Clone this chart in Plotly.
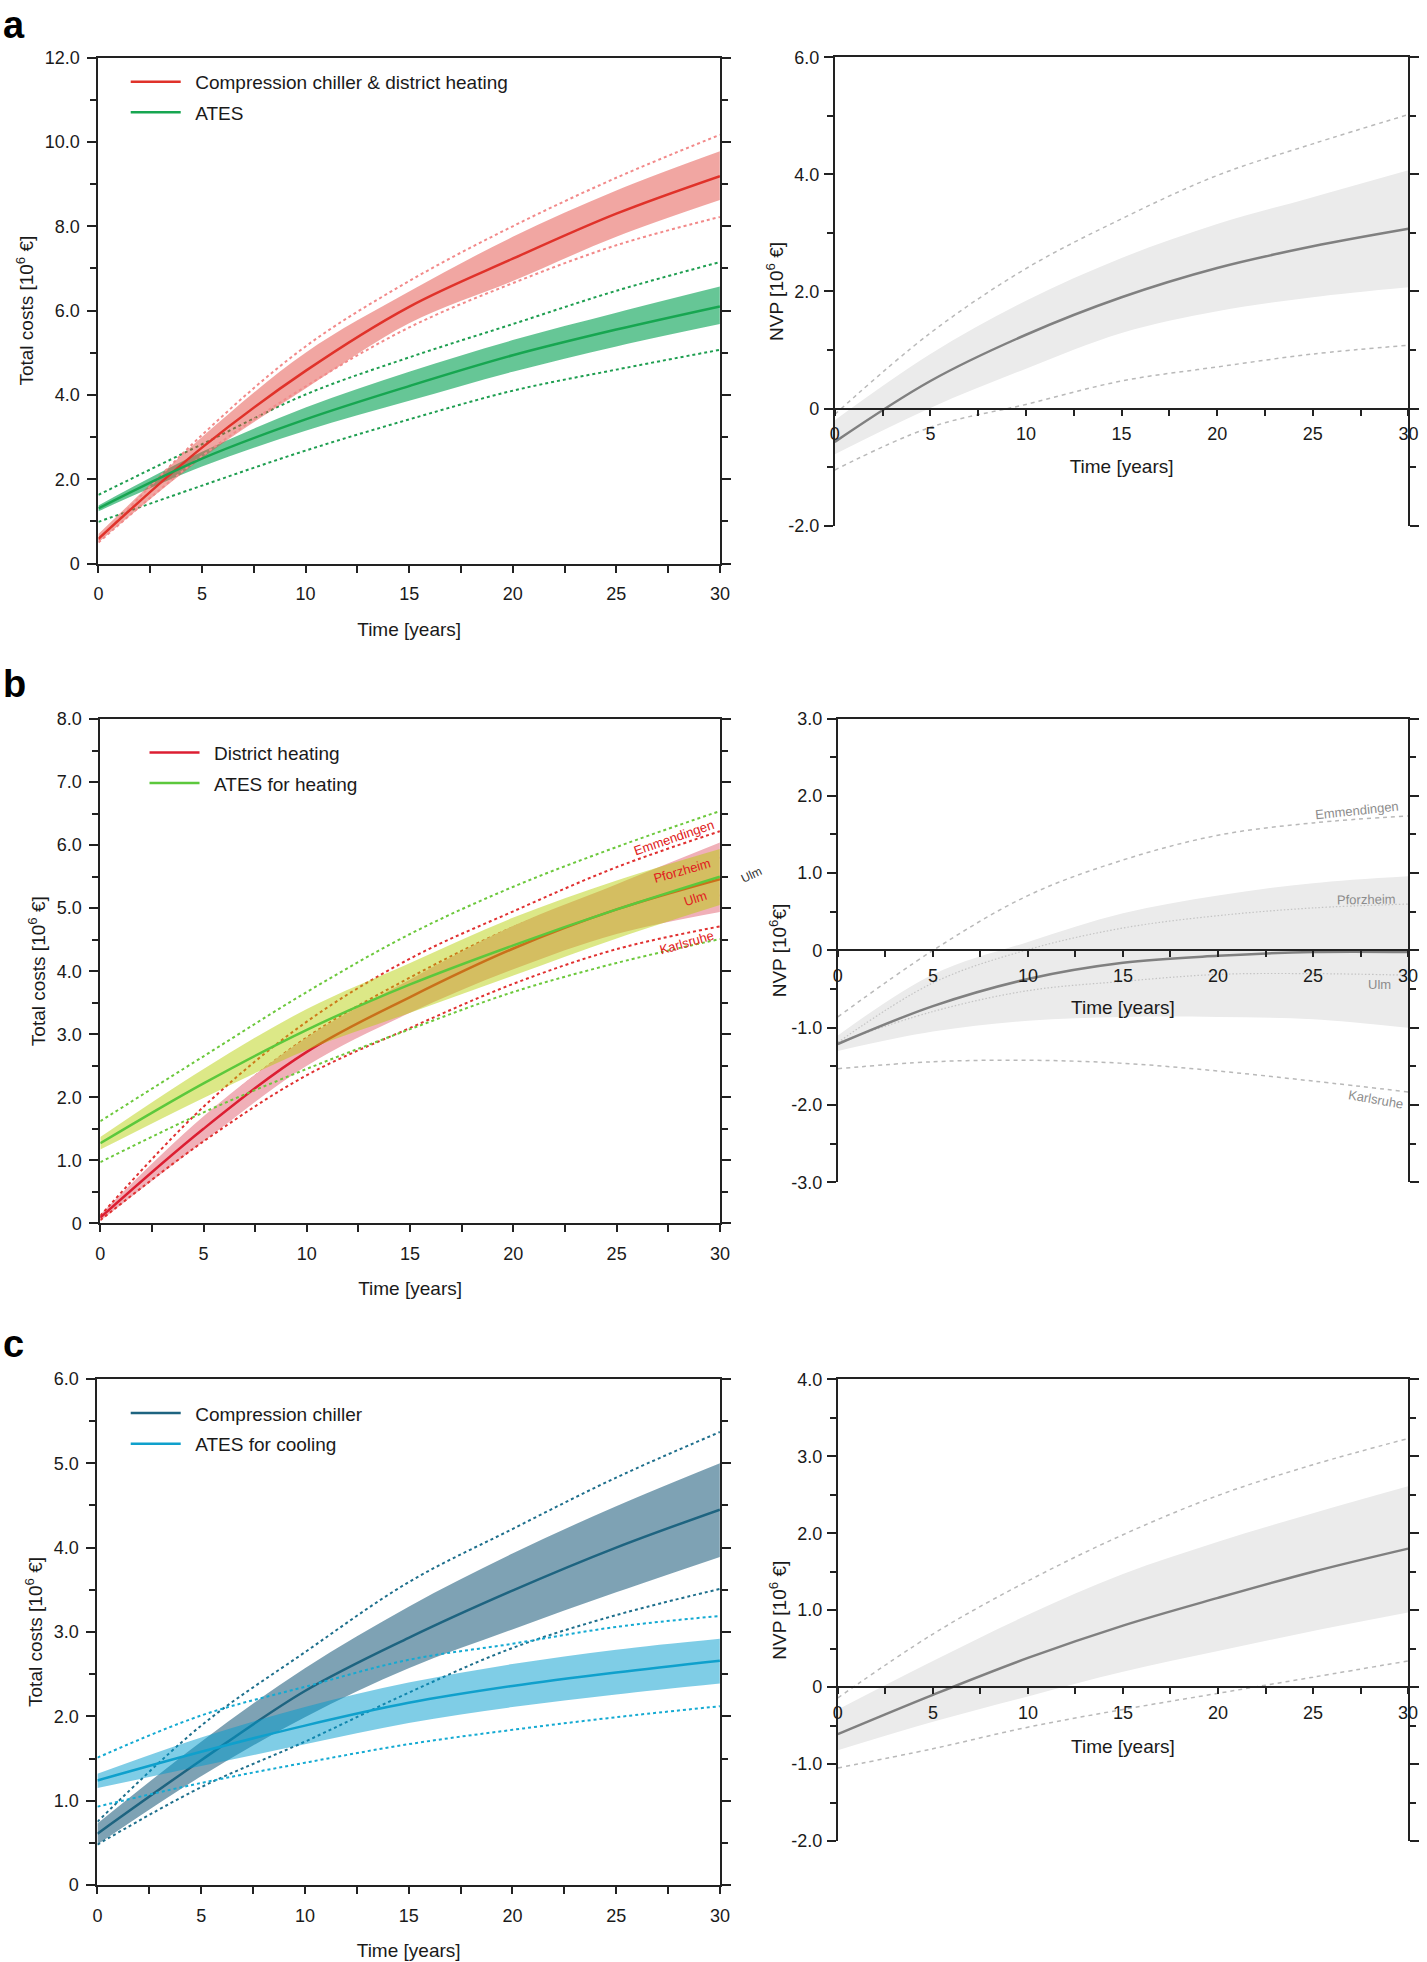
import plotly.graph_objects as go

W, H = 1427, 1962            # page / figure size
FW, FH = W, H
# measured vertical mapping of the screenshot pipeline: shown_y = VS * page_y + VOFF
VS, VOFF = 0.9902, 9.18
FONT = "Liberation Sans, Arial, Helvetica, sans-serif"

# ---------------- data ----------------
T = [0, 5, 10, 15, 20, 25, 30]
X_TICKS = [0, 5, 10, 15, 20, 25, 30]
X_TICKTEXT = ["0", "5", "10", "15", "20", "25", "30"]

# panel a (left): total costs
a_red = [0.59, 2.75, 4.57, 6.09, 7.23, 8.30, 9.19]
a_red_hi = [0.70, 3.00, 5.00, 6.45, 7.75, 8.85, 9.78]
a_red_lo = [0.50, 2.50, 4.15, 5.70, 6.70, 7.75, 8.62]
a_red_dot_hi = [0.55, 3.05, 5.15, 6.70, 8.00, 9.15, 10.17]
a_red_dot_lo = [0.50, 2.55, 4.20, 5.60, 6.65, 7.55, 8.22]
a_grn = [1.31, 2.49, 3.42, 4.21, 4.94, 5.55, 6.10]
a_grn_hi = [1.38, 2.65, 3.70, 4.55, 5.30, 5.95, 6.57]
a_grn_lo = [1.24, 2.30, 3.15, 3.86, 4.55, 5.15, 5.68]
a_grn_dot_hi = [1.63, 2.83, 4.01, 4.89, 5.68, 6.47, 7.15]
a_grn_dot_lo = [0.99, 1.85, 2.68, 3.42, 4.10, 4.60, 5.07]
a_yvals = [0, 2, 4, 6, 8, 10, 12]
a_ytext = ["0", "2.0", "4.0", "6.0", "8.0", "10.0", "12.0"]

# panel a (right): NVP
a_nvp = [-0.57, 0.47, 1.26, 1.90, 2.40, 2.77, 3.07]
a_nvp_hi = [-0.20, 0.93, 1.84, 2.57, 3.15, 3.61, 4.07]
a_nvp_lo = [-0.78, 0.01, 0.68, 1.29, 1.66, 1.90, 2.07]
a_nvp_dot_hi = [-0.10, 1.29, 2.39, 3.24, 3.98, 4.52, 5.02]
a_nvp_dot_lo = [-1.05, -0.32, 0.07, 0.47, 0.71, 0.93, 1.08]
a_nvp_yvals = [-2, 0, 2, 4, 6]
a_nvp_ytext = ["-2.0", "0", "2.0", "4.0", "6.0"]

# panel b (left): heating
b_red = [0.09, 1.50, 2.72, 3.59, 4.36, 4.98, 5.46]
b_red_hi = [0.14, 1.70, 2.95, 3.87, 4.72, 5.38, 6.04]
b_red_lo = [0.04, 1.30, 2.50, 3.34, 4.03, 4.59, 4.94]
b_red_emm = [0.12, 1.85, 3.20, 4.20, 4.95, 5.65, 6.22]
b_red_pfo = [0.10, 1.65, 2.95, 3.90, 4.70, 5.30, 5.80]
b_red_ulm = [0.08, 1.45, 2.65, 3.50, 4.25, 4.85, 5.20]
b_red_kar = [0.05, 1.30, 2.35, 3.10, 3.80, 4.35, 4.71]
b_grn = [1.27, 2.22, 3.07, 3.79, 4.41, 4.98, 5.50]
b_grn_hi = [1.37, 2.45, 3.40, 4.13, 4.85, 5.44, 5.94]
b_grn_lo = [1.17, 1.99, 2.75, 3.34, 3.93, 4.52, 5.05]
b_grn_dot_hi = [1.62, 2.65, 3.67, 4.59, 5.34, 5.97, 6.54]
b_grn_dot_lo = [0.97, 1.76, 2.45, 3.08, 3.67, 4.13, 4.51]
b_yvals = [0, 1, 2, 3, 4, 5, 6, 7, 8]
b_ytext = ["0", "1.0", "2.0", "3.0", "4.0", "5.0", "6.0", "7.0", "8.0"]

# panel b (right): NVP
b_nvp = [-1.21, -0.72, -0.37, -0.16, -0.07, -0.02, -0.02]
b_nvp_hi = [-1.10, -0.31, 0.11, 0.48, 0.71, 0.87, 0.96]
b_nvp_lo = [-1.30, -1.05, -0.91, -0.86, -0.86, -0.89, -1.00]
b_nvp_emm = [-0.86, 0.00, 0.71, 1.17, 1.49, 1.65, 1.74]
b_nvp_pfo = [-1.19, -0.42, 0.01, 0.29, 0.45, 0.55, 0.60]
b_nvp_ulm = [-1.19, -0.79, -0.52, -0.40, -0.31, -0.30, -0.32]
b_nvp_kar = [-1.53, -1.44, -1.42, -1.46, -1.56, -1.69, -1.83]
b_nvp_yvals = [-3, -2, -1, 0, 1, 2, 3]
b_nvp_ytext = ["-3.0", "-2.0", "-1.0", "0", "1.0", "2.0", "3.0"]
cities = ["Emmendingen", "Pforzheim", "Ulm", "Karlsruhe"]

# panel c (left): cooling
c_cc = [0.61, 1.48, 2.30, 2.93, 3.49, 4.00, 4.45]
c_cc_hi = [0.73, 1.70, 2.57, 3.30, 3.93, 4.49, 5.00]
c_cc_lo = [0.48, 1.29, 1.99, 2.57, 3.03, 3.47, 3.89]
c_cc_dot_hi = [0.75, 1.89, 2.76, 3.59, 4.22, 4.83, 5.37]
c_cc_dot_lo = [0.48, 1.16, 1.70, 2.28, 2.81, 3.20, 3.51]
c_at = [1.24, 1.58, 1.89, 2.16, 2.36, 2.52, 2.66]
c_at_hi = [1.32, 1.75, 2.11, 2.40, 2.62, 2.79, 2.92]
c_at_lo = [1.15, 1.41, 1.67, 1.92, 2.11, 2.26, 2.39]
c_at_dot_hi = [1.51, 2.01, 2.35, 2.67, 2.86, 3.06, 3.19]
c_at_dot_lo = [0.93, 1.21, 1.45, 1.67, 1.84, 1.99, 2.12]
c_yvals = [0, 1, 2, 3, 4, 5, 6]
c_ytext = ["0", "1.0", "2.0", "3.0", "4.0", "5.0", "6.0"]

# panel c (right): NVP
c_nvp = [-0.61, -0.10, 0.38, 0.80, 1.16, 1.50, 1.80]
c_nvp_hi = [-0.29, 0.34, 0.94, 1.47, 1.89, 2.26, 2.61]
c_nvp_lo = [-0.82, -0.45, -0.12, 0.20, 0.47, 0.73, 0.97]
c_nvp_dot_hi = [-0.14, 0.69, 1.38, 1.98, 2.49, 2.89, 3.23]
c_nvp_dot_lo = [-1.05, -0.80, -0.52, -0.29, -0.08, 0.13, 0.34]
c_nvp_yvals = [-2, -1, 0, 1, 2, 3, 4]
c_nvp_ytext = ["-2.0", "-1.0", "0", "1.0", "2.0", "3.0", "4.0"]

# ---------------- helpers ----------------
fig = go.Figure()


def px(xp):
    return xp / FW


def py(yp):
    return 1 - ((yp - VOFF) / VS) / FH


def xd(a, b):
    return [px(a), px(b)]


def yd(top, bottom):
    return [py(bottom), py(top)]


def band(n, lo, hi, color):
    fig.add_trace(go.Scatter(x=T, y=lo, xaxis="x" + n, yaxis="y" + n, mode="lines",
                             line=dict(width=0, shape="spline"), showlegend=False, hoverinfo="skip"))
    fig.add_trace(go.Scatter(x=T, y=hi, xaxis="x" + n, yaxis="y" + n, mode="lines",
                             line=dict(width=0, shape="spline"), fill="tonexty", fillcolor=color,
                             showlegend=False, hoverinfo="skip"))


def curve(n, y, color, width, dash="solid", name=None, legend=None):
    fig.add_trace(go.Scatter(x=T, y=y, xaxis="x" + n, yaxis="y" + n, mode="lines",
                             line=dict(color=color, width=width, dash=dash, shape="spline"),
                             name=name, showlegend=name is not None,
                             legend=legend if legend else "legend",
                             legendgroup=name if name else None, hoverinfo="skip"))


AX = "#222222"
TICKFONT = dict(family=FONT, size=18, color="#1a1a1a")
TITLEFONT = dict(family=FONT, size=19, color="#1a1a1a")
axis_layout = {}


def left_panel(n, xdom, ydom, yr, yvals, ytext, ydminor):
    axis_layout["xaxis" + n] = dict(
        domain=xdom, range=[0, 30], anchor="y" + n, showline=True, linecolor=AX, linewidth=2,
        mirror=True, ticks="outside", ticklen=7, tickwidth=1.5, tickcolor=AX,
        tickvals=X_TICKS, ticktext=X_TICKTEXT, tickfont=TICKFONT, ticklabelstandoff=6,
        minor=dict(tick0=0, dtick=2.5, ticks="outside", ticklen=7, tickwidth=1.5, tickcolor=AX),
        showgrid=False, zeroline=False,
        title=dict(text="Time [years]", font=TITLEFONT, standoff=19))
    axis_layout["yaxis" + n] = dict(
        domain=ydom, range=yr, anchor="x" + n, showline=True, linecolor=AX, linewidth=2,
        mirror="ticks", ticks="outside", ticklen=9, tickwidth=1.5, tickcolor=AX,
        tickvals=yvals, ticktext=ytext, tickfont=TICKFONT, ticklabelstandoff=4,
        minor=dict(tick0=0, dtick=ydminor, ticks="outside", ticklen=6, tickwidth=1.5, tickcolor=AX),
        showgrid=False, zeroline=False,
        title=dict(text="Total costs [10<sup>6</sup> €]", font=TITLEFONT, standoff=6))


def right_panel(n, top_n, xdom, ydom, yr, yvals, ytext, ydminor, ytitle, xstandoff):
    pos = ydom[0] + (0 - yr[0]) / (yr[1] - yr[0]) * (ydom[1] - ydom[0])
    axis_layout["xaxis" + n] = dict(
        domain=xdom, range=[0, 30], anchor="free", position=pos, showline=True, linecolor=AX,
        linewidth=2, ticks="outside", ticklen=6, tickwidth=1.5, tickcolor=AX,
        tickvals=X_TICKS, ticktext=X_TICKTEXT, tickfont=TICKFONT, ticklabelstandoff=3,
        minor=dict(tick0=0, dtick=2.5, ticks="outside", ticklen=6, tickwidth=1.5, tickcolor=AX),
        showgrid=False, zeroline=False,
        title=dict(text="Time [years]", font=TITLEFONT, standoff=xstandoff))
    axis_layout["yaxis" + n] = dict(
        domain=ydom, range=yr, anchor="x" + n, showline=True, linecolor=AX, linewidth=2,
        mirror="ticks", ticks="outside", ticklen=9, tickwidth=1.5, tickcolor=AX,
        tickvals=yvals, ticktext=ytext, tickfont=TICKFONT, ticklabelstandoff=1,
        minor=dict(tick0=0, dtick=ydminor, ticks="outside", ticklen=6, tickwidth=1.5, tickcolor=AX),
        showgrid=False, zeroline=False,
        title=dict(text=ytitle, font=TITLEFONT, standoff=0))
    axis_layout["xaxis" + top_n] = dict(
        overlaying="x" + n, anchor="y" + n, side="top", range=[0, 30], showline=True,
        linecolor=AX, linewidth=2, ticks="", showticklabels=False, showgrid=False, zeroline=False)
    fig.add_trace(go.Scatter(x=[], y=[], xaxis="x" + top_n, yaxis="y" + n, mode="lines",
                             showlegend=False, hoverinfo="skip"))


# ---------------- panel a ----------------
band("1", a_grn_lo, a_grn_hi, "rgba(0,160,80,0.6)")
curve("1", a_grn_dot_hi, "#1e9e50", 2, "dot")
curve("1", a_grn_dot_lo, "#1e9e50", 2, "dot")
band("1", a_red_lo, a_red_hi, "rgba(225,70,60,0.48)")
curve("1", a_red_dot_hi, "#f28a8a", 2, "dot")
curve("1", a_red_dot_lo, "#f28a8a", 2, "dot")
curve("1", a_red, "#e0322a", 2.5, name="\u2002Compression chiller & district heating", legend="legend")
curve("1", a_grn, "#17a651", 2.5, name="\u2002ATES", legend="legend")

GRAY_BAND = "#ebebeb"
GRAY_LINE = "#808080"
GRAY_DOT = "#b9b9b9"
band("2", a_nvp_lo, a_nvp_hi, GRAY_BAND)
curve("2", a_nvp_dot_hi, GRAY_DOT, 1.5, "4px,4px")
curve("2", a_nvp_dot_lo, GRAY_DOT, 1.5, "4px,4px")
curve("2", a_nvp, GRAY_LINE, 2.5)

# ---------------- panel b ----------------
curve("3", b_red_pfo, "#e03030", 2, "dot")
curve("3", b_red_ulm, "#e03030", 2, "dot")
band("3", b_red_lo, b_red_hi, "#f0b0b8")
curve("3", b_red_emm, "#e03030", 2, "dot")
curve("3", b_red_kar, "#e03030", 2, "dot")
curve("3", b_red, "#dc1e32", 2.5, name="\u2002District heating", legend="legend2")
band("3", b_grn_lo, b_grn_hi, "rgba(181,206,0,0.47)")
curve("3", b_grn_dot_hi, "#6cc83c", 2, "dot")
curve("3", b_grn_dot_lo, "#6cc83c", 2, "dot")
curve("3", b_grn, "#5cc83c", 2.5, name="\u2002ATES for heating", legend="legend2")

band("4", b_nvp_lo, b_nvp_hi, GRAY_BAND)
curve("4", b_nvp_emm, GRAY_DOT, 1.5, "4px,4px")
curve("4", b_nvp_pfo, "#c4c4c4", 1.2, "1.5px,2px")
curve("4", b_nvp_ulm, "#c4c4c4", 1.2, "1.5px,2px")
curve("4", b_nvp_kar, GRAY_DOT, 1.5, "4px,4px")
curve("4", b_nvp, GRAY_LINE, 2.5)

# ---------------- panel c ----------------
band("5", c_cc_lo, c_cc_hi, "rgba(40,100,130,0.6)")
curve("5", c_cc_dot_hi, "#1e6f8c", 2, "dot")
curve("5", c_cc_dot_lo, "#1e6f8c", 2, "dot")
curve("5", c_cc, "#1e6480", 2.5, name="\u2002Compression chiller", legend="legend3")
band("5", c_at_lo, c_at_hi, "rgba(0,155,205,0.5)")
curve("5", c_at_dot_hi, "#14aad2", 2, "dot")
curve("5", c_at_dot_lo, "#14aad2", 2, "dot")
curve("5", c_at, "#0fa0cc", 2.5, name="\u2002ATES for cooling", legend="legend3")

band("6", c_nvp_lo, c_nvp_hi, GRAY_BAND)
curve("6", c_nvp_dot_hi, GRAY_DOT, 1.5, "4px,4px")
curve("6", c_nvp_dot_lo, GRAY_DOT, 1.5, "4px,4px")
curve("6", c_nvp, GRAY_LINE, 2.5)

# ---------------- axes ----------------
left_panel("", xd(94.4, 722.5), yd(56.8, 563), [0, 12], a_yvals, a_ytext, 1)
right_panel("2", "7", xd(838.6, 1418.3), yd(56.4, 525), [-2, 6], a_nvp_yvals, a_nvp_ytext, 1,
            "NVP [10<sup>6</sup> €]", 16)
left_panel("3", xd(96.3, 722.5), yd(718.5, 1223), [0, 8], b_yvals, b_ytext, 0.5)
right_panel("4", "8", xd(841.7, 1418), yd(718, 1182), [-3, 3], b_nvp_yvals, b_nvp_ytext, 0.5,
            "NVP [10<sup>6</sup>€]", 15)
left_panel("5", xd(93.4, 722.5), yd(1378.6, 1885), [0, 6], c_yvals, c_ytext, 0.5)
right_panel("6", "9", xd(841.7, 1418), yd(1379, 1841), [-2, 4], c_nvp_yvals, c_nvp_ytext, 0.5,
            "NVP [10<sup>6</sup> €]", 17)
axis_layout["xaxis"]["anchor"] = "y"
axis_layout["yaxis"]["anchor"] = "x"

# ---------------- annotations ----------------
ann = []
for letter, ypx in [("a", 24), ("b", 683), ("c", 1344)]:
    ann.append(dict(text="<b>%s</b>" % letter, x=px(-4), y=py(ypx), xref="paper", yref="paper",
                    xanchor="left", yanchor="middle", showarrow=False,
                    font=dict(family=FONT, size=38, color="black")))

red_lbl_pos = [(27.8, 6.12, -19), (28.2, 5.59, -16), (28.8, 5.15, -18), (28.4, 4.45, -16)]
for name, (xx, yy, ang) in zip(cities, red_lbl_pos):
    ann.append(dict(text=name, x=xx, y=yy, xref="x3", yref="y3", showarrow=False, textangle=ang,
                    font=dict(family=FONT, size=13, color="#e02020")))
gray_lbl_pos = [(27.3, 1.81, -6), (27.8, 0.66, -1), (28.5, -0.44, 0), (28.3, -1.93, 10)]
for name, (xx, yy, ang) in zip(cities, gray_lbl_pos):
    ann.append(dict(text=name, x=xx, y=yy, xref="x4", yref="y4", showarrow=False, textangle=ang,
                    font=dict(family=FONT, size=13, color="#8c8c8c")))
ann.append(dict(text="Ulm", x=px(754), y=py(875), xref="paper", yref="paper", showarrow=False,
                textangle=-25, font=dict(family=FONT, size=12, color="#333333")))

legend_common = dict(xanchor="left", yanchor="top", bgcolor="rgba(0,0,0,0)",
                     font=dict(family=FONT, size=19, color="#1a1a1a"), tracegroupgap=3,
                     itemwidth=50)

fig.update_layout(
    width=FW, height=FH, margin=dict(l=0, r=0, t=0, b=0),
    paper_bgcolor="white", plot_bgcolor="white",
    font=dict(family=FONT, color="#1a1a1a"),
    legend=dict(x=px(122), y=py(62), **legend_common),
    legend2=dict(x=px(141), y=py(733), **legend_common),
    legend3=dict(x=px(122), y=py(1394), **legend_common),
    annotations=ann,
    **axis_layout,
)

fig.write_html("out.html", config={"displayModeBar": False},
               post_script="document.body.style.margin='0';")
